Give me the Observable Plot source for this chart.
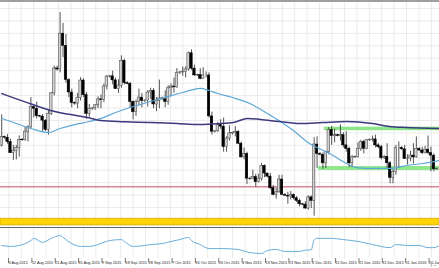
<!DOCTYPE html>
<html><head><meta charset="utf-8">
<script src="https://cdn.jsdelivr.net/npm/d3@7"></script>
<script src="https://cdn.jsdelivr.net/npm/@observablehq/plot@0.6"></script>
<style>
html,body{margin:0;padding:0;background:#fff;}
#c{position:relative;width:439px;height:268px;overflow:hidden;background:#fff;}
#c svg{position:absolute;left:0;overflow:hidden;}
#topline{position:absolute;left:0;top:0;width:439px;height:1.6px;background:#a0a0a0;z-index:5;}
</style>
</head><body>
<div id="c"><div id="topline"></div></div>
<script>
// EUR/USD daily bars (Sunday sessions included)
const dates = [
"2015-07-31","2015-08-02","2015-08-03","2015-08-04","2015-08-05","2015-08-06","2015-08-07",
"2015-08-09","2015-08-10","2015-08-11","2015-08-12","2015-08-13","2015-08-14",
"2015-08-16","2015-08-17","2015-08-18","2015-08-19","2015-08-20","2015-08-21",
"2015-08-23","2015-08-24","2015-08-25","2015-08-26","2015-08-27","2015-08-28",
"2015-08-30","2015-08-31","2015-09-01","2015-09-02","2015-09-03","2015-09-04",
"2015-09-06","2015-09-07","2015-09-08","2015-09-09","2015-09-10","2015-09-11",
"2015-09-13","2015-09-14","2015-09-15","2015-09-16","2015-09-17","2015-09-18",
"2015-09-20","2015-09-21","2015-09-22","2015-09-23","2015-09-24","2015-09-25",
"2015-09-27","2015-09-28","2015-09-29","2015-09-30","2015-10-01","2015-10-02",
"2015-10-04","2015-10-05","2015-10-06","2015-10-07","2015-10-08","2015-10-09",
"2015-10-11","2015-10-12","2015-10-13","2015-10-14","2015-10-15","2015-10-16",
"2015-10-18","2015-10-19","2015-10-20","2015-10-21","2015-10-22","2015-10-23",
"2015-10-25","2015-10-26","2015-10-27","2015-10-28","2015-10-29","2015-10-30",
"2015-11-01","2015-11-02","2015-11-03","2015-11-04","2015-11-05","2015-11-06",
"2015-11-08","2015-11-09","2015-11-10","2015-11-11","2015-11-12","2015-11-13",
"2015-11-15","2015-11-16","2015-11-17","2015-11-18","2015-11-19","2015-11-20",
"2015-11-22","2015-11-23","2015-11-24","2015-11-25","2015-11-26","2015-11-27",
"2015-11-29","2015-11-30","2015-12-01","2015-12-02","2015-12-03","2015-12-04",
"2015-12-06","2015-12-07","2015-12-08","2015-12-09","2015-12-10","2015-12-11",
"2015-12-13","2015-12-14","2015-12-15","2015-12-16","2015-12-17","2015-12-18",
"2015-12-20","2015-12-21","2015-12-22","2015-12-23","2015-12-24",
"2015-12-27","2015-12-28","2015-12-29","2015-12-30","2015-12-31",
"2016-01-03","2016-01-04","2016-01-05","2016-01-06","2016-01-07","2016-01-08",
"2016-01-10","2016-01-11","2016-01-12","2016-01-13","2016-01-14","2016-01-15",
"2016-01-17","2016-01-18","2016-01-19","2016-01-20","2016-01-21","2016-01-22",
"2016-01-24"];
const open = [
1.0934,1.0984,1.0980,1.0955,1.0890,1.0904,1.0920,
1.0967,1.0965,1.1015,1.1040,1.1160,1.1150,
1.1106,1.1104,1.1080,1.1026,1.1120,1.1240,
1.1386,1.1380,1.1590,1.1518,1.1318,1.1245,
1.1183,1.1180,1.1213,1.1315,1.1230,1.1120,
1.1150,1.1152,1.1170,1.1205,1.1200,1.1280,
1.1338,1.1340,1.1316,1.1265,1.1285,1.1430,
1.1300,1.1296,1.1190,1.1130,1.1190,1.1215,
1.1195,1.1198,1.1245,1.1255,1.1175,1.1195,
1.1210,1.1205,1.1190,1.1270,1.1280,1.1275,
1.1360,1.1362,1.1365,1.1380,1.1475,1.1385,
1.1345,1.1348,1.1325,1.1345,1.1345,1.1105,
1.1015,1.1018,1.1055,1.1045,1.0925,1.0975,
1.1005,1.1008,1.1015,1.0945,1.0865,1.0885,
1.0740,1.0738,1.0750,1.0720,1.0740,1.0815,
1.0770,1.0752,1.0685,1.0645,1.0660,1.0735,
1.0645,1.0640,1.0635,1.0645,1.0625,1.0610,
1.0590,1.0588,1.0565,1.0630,1.0610,1.0940,
1.0885,1.0880,1.0830,1.0895,1.1025,1.0990,
1.0995,1.0990,1.0995,1.0935,1.0915,1.0830,
1.0865,1.0868,1.0915,1.0955,1.0915,
1.0965,1.0968,1.0970,1.0935,1.0925,
1.0860,1.0868,1.0830,1.0745,1.0780,1.0920,
1.0920,1.0912,1.0855,1.0858,1.0875,1.0865,
1.0915,1.0905,1.0890,1.0910,1.0890,1.0875,
1.0795];
const high = [
1.1114,1.0990,1.0999,1.0972,1.0935,1.0935,1.0990,
1.0975,1.1040,1.1050,1.1215,1.1165,1.1188,
1.1112,1.1116,1.1085,1.1139,1.1245,1.1400,
1.1400,1.1714,1.1650,1.1585,1.1325,1.1265,
1.1190,1.1240,1.1332,1.1325,1.1246,1.1175,
1.1158,1.1175,1.1220,1.1230,1.1295,1.1345,
1.1345,1.1370,1.1330,1.1320,1.1460,1.1440,
1.1308,1.1305,1.1195,1.1200,1.1265,1.1240,
1.1202,1.1255,1.1270,1.1268,1.1215,1.1318,
1.1218,1.1255,1.1285,1.1295,1.1330,1.1385,
1.1368,1.1395,1.1395,1.1482,1.1495,1.1405,
1.1352,1.1385,1.1390,1.1365,1.1360,1.1130,
1.1022,1.1070,1.1085,1.1095,1.0985,1.1050,
1.1012,1.1045,1.1020,1.0955,1.0920,1.0895,
1.0748,1.0790,1.0765,1.0765,1.0830,1.0820,
1.0772,1.0770,1.0700,1.0685,1.0760,1.0760,
1.0652,1.0660,1.0665,1.0650,1.0635,1.0620,
1.0596,1.0605,1.0640,1.0640,1.0980,1.0985,
1.0892,1.0890,1.0900,1.1040,1.1045,1.1030,
1.1000,1.1055,1.1010,1.1015,1.0925,1.0875,
1.0872,1.0950,1.0965,1.0965,1.0970,
1.0972,1.0990,1.0995,1.0945,1.0935,
1.0875,1.0945,1.0840,1.0790,1.0935,1.0955,
1.0928,1.0935,1.0880,1.0900,1.0945,1.0985,
1.0922,1.0925,1.0930,1.0990,1.0925,1.0885,
1.0802];
const low = [
1.0925,1.0972,1.0942,1.0888,1.0847,1.0850,1.0867,
1.0960,1.0960,1.0955,1.1030,1.1097,1.1090,
1.1098,1.1017,1.1016,1.0995,1.1110,1.1225,
1.1370,1.1360,1.1450,1.1300,1.1215,1.1155,
1.1170,1.1150,1.1195,1.1216,1.1087,1.1100,
1.1140,1.1140,1.1150,1.1150,1.1185,1.1260,
1.1330,1.1290,1.1262,1.1240,1.1270,1.1290,
1.1290,1.1155,1.1085,1.1105,1.1165,1.1155,
1.1185,1.1160,1.1205,1.1150,1.1133,1.1150,
1.1200,1.1155,1.1170,1.1220,1.1240,1.1270,
1.1350,1.1340,1.1330,1.1370,1.1375,1.1340,
1.1338,1.1320,1.1325,1.1330,1.1095,1.0995,
1.1008,1.1010,1.1030,1.0895,1.0895,1.0960,
1.0995,1.0985,1.0940,1.0860,1.0850,1.0705,
1.0730,1.0735,1.0690,1.0715,1.0725,1.0745,
1.0745,1.0675,1.0640,1.0620,1.0655,1.0640,
1.0635,1.0590,1.0615,1.0615,1.0600,1.0575,
1.0582,1.0560,1.0555,1.0565,1.0520,1.0800,
1.0875,1.0795,1.0800,1.0880,1.0935,1.0950,
1.0985,1.0960,1.0920,1.0895,1.0805,1.0805,
1.0858,1.0860,1.0900,1.0885,1.0910,
1.0958,1.0955,1.0920,1.0915,1.0850,
1.0852,1.0800,1.0710,1.0710,1.0760,1.0800,
1.0905,1.0855,1.0820,1.0840,1.0825,1.0860,
1.0900,1.0880,1.0885,1.0880,1.0780,1.0780,
1.0790];
const close = [
1.0984,1.0980,1.0955,1.0890,1.0904,1.0920,1.0967,
1.0965,1.1015,1.1040,1.1160,1.1150,1.1106,
1.1104,1.1080,1.1026,1.1120,1.1240,1.1386,
1.1380,1.1590,1.1518,1.1318,1.1245,1.1183,
1.1180,1.1213,1.1315,1.1230,1.1120,1.1150,
1.1152,1.1170,1.1205,1.1200,1.1280,1.1338,
1.1340,1.1316,1.1265,1.1285,1.1430,1.1300,
1.1296,1.1190,1.1130,1.1190,1.1215,1.1195,
1.1198,1.1245,1.1255,1.1175,1.1195,1.1210,
1.1205,1.1190,1.1270,1.1280,1.1275,1.1360,
1.1362,1.1365,1.1380,1.1475,1.1385,1.1345,
1.1348,1.1325,1.1345,1.1345,1.1105,1.1015,
1.1018,1.1055,1.1045,1.0925,1.0975,1.1005,
1.1008,1.1015,1.0945,1.0865,1.0885,1.0740,
1.0738,1.0750,1.0720,1.0740,1.0815,1.0770,
1.0752,1.0685,1.0645,1.0660,1.0735,1.0645,
1.0640,1.0635,1.0645,1.0625,1.0610,1.0590,
1.0588,1.0565,1.0630,1.0610,1.0940,1.0885,
1.0880,1.0830,1.0895,1.1025,1.0990,1.0995,
1.0990,1.0995,1.0935,1.0915,1.0830,1.0865,
1.0868,1.0915,1.0955,1.0915,1.0965,
1.0968,1.0970,1.0935,1.0925,1.0860,
1.0868,1.0830,1.0745,1.0780,1.0920,1.0920,
1.0912,1.0855,1.0858,1.0875,1.0865,1.0915,
1.0905,1.0890,1.0910,1.0890,1.0875,1.0795,
1.0798];

// moving averages (read as points along the lines): bar position, price
const fastMaBar = [0,5,10,16,20,25,30,34,39,44,51,58,62,68,71,74,79,85,91,96.5,99,105.4,112.3,118.1,121.5,127,132.8,138.6,144.1,150];
const fastMaVal = [1.1093,1.1063,1.1034,1.1011,1.1034,1.1057,1.1075,1.1093,1.1128,1.1157,1.1192,1.1227,1.1245,1.1269,1.1257,1.1239,1.1216,1.1181,1.1122,1.1063,1.1034,1.0946,1.0888,1.0829,1.0805,1.0800,1.0800,1.0817,1.0829,1.0847];
const slowMaBar = [0,8,16.7,23,29.4,33.8,42,51,60,68,74,79.4,84.2,88.6,95,102.3,109.9,118.1,127,132.8,138.6,150];
const slowMaVal = [1.1239,1.1190,1.1140,1.1117,1.1099,1.1081,1.1074,1.1069,1.1063,1.1058,1.1062,1.1069,1.1093,1.1087,1.1075,1.1063,1.1069,1.1075,1.1063,1.1046,1.1040,1.1034];

// oscillator (lower pane)
const oscBar = [0,3,6,10,11,14,17,20,21,24,27,30,35,37,41,42,45,49,51,55,58,61,64,65,68,71,76,81,85,89,91,94,97,102,104,106,107,108,110,113,117,122,127,133,135,139,143,146,148,150];
const oscVal = [42,39,42,58,65,52,65,74,68,48,39,39,52,58,61,55,39,42,45,48,55,61,68,58,45,32,32,29,19,16,26,29,23,23,27,28,60,65,65,65,61,55,45,35,45,42,42,35,35,42];

// horizontal levels and zones
const supportZone = [{lo:1.0466, hi:1.0505}];
const redLevel = [1.0692];
const rangeZones = [
  {from:"2015-12-07", to:"2016-01-24", lo:1.1021, hi:1.1042},
  {from:"2015-12-04", to:"2016-01-24", lo:1.0788, hi:1.0811}
];

// time-axis labels
const tickDates = ["2015-08-03","2015-08-12","2015-08-21","2015-08-31","2015-09-09","2015-09-18","2015-09-28","2015-10-07","2015-10-16","2015-10-26","2015-11-04","2015-11-13","2015-11-23","2015-12-02","2015-12-11","2015-12-21","2015-12-31","2016-01-11","2016-01-20"];
const tickLabels = ["3 Aug 2015","12 Aug 2015","21 Aug 2015","31 Aug 2015","9 Sep 2015","18 Sep 2015","28 Sep 2015","7 Oct 2015","16 Oct 2015","26 Oct 2015","4 Nov 2015","13 Nov 2015","23 Nov 2015","2 Dec 2015","11 Dec 2015","21 Dec 2015","31 Dec 2015","11 Jan 2016","20 Jan 2016"];

// ---- build ----
const bars = dates.map((d,i)=>({i, d, o:open[i], h:high[i], l:low[i], c:close[i]}));
const up = bars.filter(b=>b.c>=b.o), down = bars.filter(b=>b.c<b.o);
const fastMa = fastMaBar.map((j,k)=>({j, p:fastMaVal[k]}));
const slowMa = slowMaBar.map((j,k)=>({j, p:slowMaVal[k]}));
const osc = oscBar.map((j,k)=>({j, v:oscVal[k]}));
const zones = rangeZones.map(z=>({j1:dates.indexOf(z.from)+0.5, j2:dates.indexOf(z.to)+2, lo:z.lo, hi:z.hi}));
const tickPos = tickDates.map(d=>dates.indexOf(d));
const labelOf = new Map(tickPos.map((j,k)=>[j, tickLabels[k]]));

const xDomain = [-0.411, 149.93];
const gridBars = d3.range(2.43, 151, 4.257);
const gridPrices = d3.range(1.17374, 1.040, -0.00729);
const W = 0.42;

const main = Plot.plot({
  width:439, height:226, margin:0,
  x:{domain:xDomain, axis:null},
  y:{domain:[1.04596, 1.17843], axis:null},
  style:{background:"transparent"},
  marks:[
    Plot.ruleX(gridBars, {stroke:"#ebebeb", strokeWidth:1}),
    Plot.ruleY(gridPrices, {stroke:"#ebebeb", strokeWidth:1}),
    Plot.rect(supportZone, {y1:"lo", y2:"hi", fill:"#ffd400", stroke:"#d9aa00", strokeWidth:0.8}),
    Plot.ruleY(redLevel, {stroke:"#c24a5e", strokeWidth:1}),
    Plot.rect(zones, {x1:"j1", x2:"j2", y1:"lo", y2:"hi", fill:"#8fe58a", clip:true}),
    Plot.ruleX(bars, {x:"i", y1:"l", y2:"h", stroke:"#2a2a2a", strokeWidth:0.8, clip:true}),
    Plot.rect(up, {x1:d=>d.i-W, x2:d=>d.i+W, y1:"o", y2:"c", fill:"#d2d2d2", stroke:"#555", strokeWidth:0.6, clip:true}),
    Plot.rect(down, {x1:d=>d.i-W, x2:d=>d.i+W, y1:"o", y2:"c", fill:"#000", stroke:"#000", strokeWidth:0.5, clip:true}),
    Plot.line(fastMa, {x:"j", y:"p", stroke:"#5ea8d8", strokeWidth:1.2, curve:"monotone-x", clip:true}),
    Plot.line(slowMa, {x:"j", y:"p", stroke:"#3c3a7c", strokeWidth:1.5, curve:"monotone-x", clip:true})
  ]
});
main.style.top = "0px";

const lower = Plot.plot({
  width:439, height:42, marginTop:1, marginBottom:10, marginLeft:0, marginRight:0,
  x:{domain:xDomain},
  y:{domain:[0,100], axis:null},
  style:{background:"transparent"},
  marks:[
    Plot.ruleX(gridBars, {stroke:"#ebebeb", strokeWidth:1}),
    Plot.ruleY([100], {stroke:"#666", strokeWidth:1}),
    Plot.line(osc, {x:"j", y:"v", stroke:"#6aaedb", strokeWidth:1, curve:"monotone-x", clip:true}),
    Plot.axisX(tickPos, {anchor:"bottom", tickSize:5, tickPadding:-2, tickFormat:j=>labelOf.get(j), textAnchor:"start", dx:1, fontSize:3.8, fill:"#222", stroke:"#777", fontFamily:"Liberation Sans, Arial, sans-serif"})
  ]
});
lower.style.top = "226px";

const c = document.getElementById("c");
c.appendChild(main);
c.appendChild(lower);
</script>
</body></html>
